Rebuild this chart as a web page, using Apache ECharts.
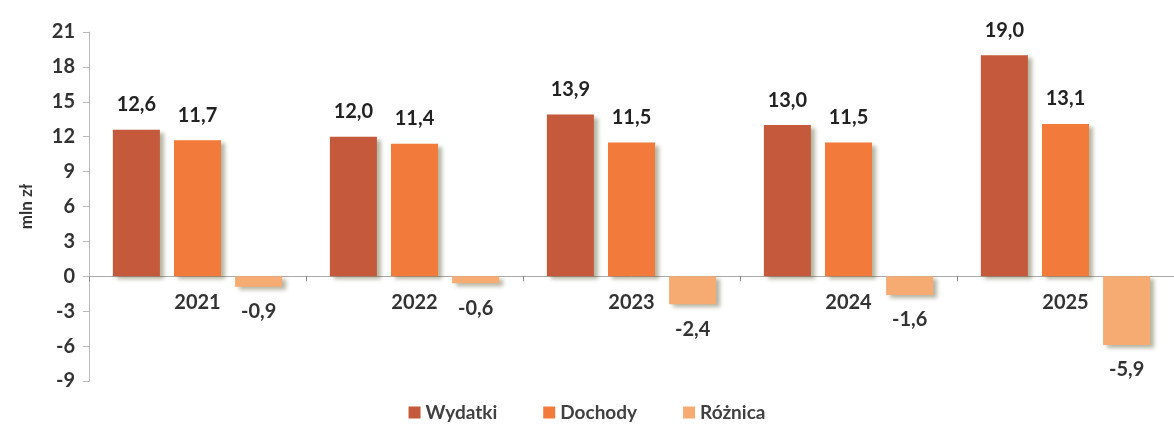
<!DOCTYPE html>
<html><head><meta charset="utf-8">
<script src="https://cdn.jsdelivr.net/npm/echarts@6/dist/echarts.min.js"></script>
<style>html,body{margin:0;padding:0;background:#fff}#c{width:1174px;height:433px}</style>
</head><body><div id="c"></div>
<script>
const categories = ['2021','2022','2023','2024','2025'];
const wydatki = [12.6, 12.0, 13.9, 13.0, 19.0];
const dochody = [11.7, 11.4, 11.5, 11.5, 13.1];
const roznica = [-0.9, -0.6, -2.4, -1.6, -5.9];
const seriesNames = ['Wydatki','Dochody','Różnica'];
const colors = ['#C4593B','#F27A3A','#F6AB72'];

const font = 'Lato, "Open Sans", sans-serif';
const fmt = p => p.value.toFixed(1).replace('.', ',');
const shadow = {shadowColor:'rgba(90,90,50,0.45)', shadowBlur:4, shadowOffsetX:4, shadowOffsetY:3};
function mk(name, data, color){
  return {
    name, type:'bar', data, barGap:'30%', barCategoryGap:'22%',
    itemStyle:Object.assign({color}, shadow),
    label:{show:true, position: 'top', distance:15, formatter:fmt,
      fontFamily:font, fontSize:20, fontWeight:'bold', color:'#222'}
  };
}
const s3 = mk(seriesNames[2], roznica, colors[2]);
s3.label.position = 'bottom';
s3.label.color = '#333';
s3.label.distance = 15;

const chart = echarts.init(document.getElementById('c'));
chart.setOption({
  animation:false,
  backgroundColor:'#fff',
  grid:{left:89, right:0, top:32, bottom:52},
  legend:{bottom:6, left:'center', itemWidth:12, itemHeight:12, itemGap:46,
    icon:'rect', textStyle:{fontFamily:font, fontSize:19, fontWeight:'bold', color:'#404040'},
    data:seriesNames},
  xAxis:{type:'category', data:categories,
    axisLine:{onZero:true, lineStyle:{color:'#aaa', width:1}},
    axisTick:{show:true, length:5, lineStyle:{color:'#888'}},
    axisLabel:{margin:-88, fontFamily:font, fontSize:20, fontWeight:'bold', color:'#333'}},
  yAxis:{type:'value', min:-9, max:21, interval:3,
    name:'mln zł', nameLocation:'middle', nameGap:54, nameRotate:90,
    nameTextStyle:{fontFamily:font, fontSize:17, fontWeight:'bold', color:'#333'},
    axisLine:{show:true, lineStyle:{color:'#bbb'}},
    axisTick:{show:true, length:6, lineStyle:{color:'#bbb'}},
    splitLine:{show:false},
    axisLabel:{margin:14, fontFamily:font, fontSize:20, fontWeight:'bold', color:'#333'}},
  series:[mk(seriesNames[0], wydatki, colors[0]), mk(seriesNames[1], dochody, colors[1]), s3]
});
</script></body></html>
